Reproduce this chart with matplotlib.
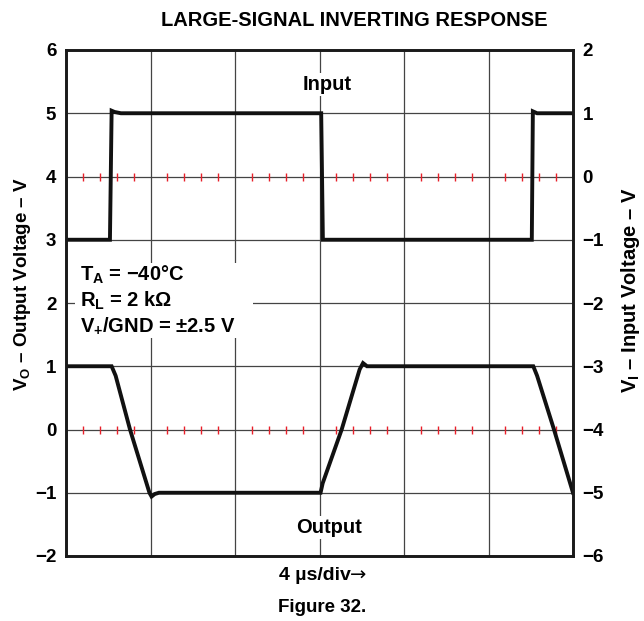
import matplotlib
matplotlib.use('Agg')
import matplotlib.pyplot as plt
from matplotlib.patches import Rectangle

plt.rcParams['font.family'] = ['Liberation Sans', 'DejaVu Sans']
plt.rcParams['font.weight'] = 'bold'
plt.rcParams['mathtext.fontset'] = 'custom'
plt.rcParams['mathtext.rm'] = 'Liberation Sans:bold'
plt.rcParams['mathtext.it'] = 'Liberation Sans:bold'
plt.rcParams['mathtext.bf'] = 'Liberation Sans:bold'

# tempo em us (4 us/div, 6 divisoes)
t_in = [0, 2.08, 2.16, 2.3, 2.6, 12.08, 12.16, 12.3, 22.05, 22.10, 22.3, 24]
v_in = [-1, -1, 1.04, 1.02, 1, 1, -1.0, -1, -1, 1.03, 1, 1]

t_out = [0, 2.16, 2.35, 3.03, 3.95, 4.05, 4.2, 4.4, 12.05, 12.15, 13.05, 13.9,
         14.06, 14.25, 22.12, 22.3, 23.1, 24]
v_out = [1, 1, 0.85, 0, -1.0, -1.06, -1.02, -1.0, -1, -0.85, 0, 0.95,
         1.05, 1.0, 1, 0.85, 0, -1]

vo_ticks = [-2, -1, 0, 1, 2, 3, 4, 5, 6]
vi_ticks = [-6, -5, -4, -3, -2, -1, 0, 1, 2]
t_grid = [0, 4, 8, 12, 16, 20, 24]
ref_levels = [4, 0]   # linhas com marcas vermelhas (eixo VO)

W, H = 644, 621
fig = plt.figure(figsize=(W / 100, H / 100), dpi=100)
ax = fig.add_axes([66 / W, 1 - 556 / H, (573 - 66) / W, (556 - 50) / H])
ax2 = ax.twinx()

ax.set_xlim(0, 24)
ax.set_ylim(-2, 6)
ax2.set_ylim(-6, 2)
ax.set_xticks(t_grid)
ax.set_yticks(vo_ticks)
ax2.set_yticks(vi_ticks)
ax.set_xticklabels([])
ax.set_yticklabels([str(v).replace('-', '\u2212') for v in vo_ticks], fontsize=13.5)
ax2.set_yticklabels([str(v).replace('-', '\u2212') for v in vi_ticks], fontsize=13.5)
ax.tick_params(length=0, pad=7)
ax2.tick_params(length=0, pad=7)

ax.set_axisbelow(True)
ax.grid(True, color='#444444', lw=0.9)
for s in list(ax.spines.values()) + list(ax2.spines.values()):
    s.set_linewidth(1.9)
    s.set_color('#1a1a1a')

# marcas vermelhas nas linhas de referencia
marks = [t for t in [k * 0.8 for k in range(1, 30)] if abs(t / 4 - round(t / 4)) > 0.01]
for lvl in ref_levels:
    ax.plot(marks, [lvl] * len(marks), ls='none', marker='|', color='#e8202a',
            ms=6, mew=1.0, zorder=1)

ax2.plot(t_in, v_in, color='#111111', lw=2.8, solid_joinstyle='miter')
ax.plot(t_out, v_out, color='#111111', lw=2.8, solid_joinstyle='miter', zorder=3)

# caixa das condicoes
ax2.add_patch(Rectangle((0.018, 0.431), 0.351, 0.148, transform=ax2.transAxes,
                        facecolor='white', edgecolor='none', zorder=1))
cond = ['T$_\\mathrm{A}$ = \u221240\u00b0C', 'R$_\\mathrm{L}$ = 2 k\u03a9',
        'V$_{+}$/GND = \u00b12.5 V']
for txt, yb in zip(cond, [0.545, 0.493, 0.443]):
    ax2.text(0.028, yb, txt, transform=ax2.transAxes, fontsize=14.5,
             va='baseline', ha='left', zorder=4)

ax2.text(0.515, 0.931, 'Input', transform=ax2.transAxes, fontsize=14.5,
         ha='center', va='center',
         bbox=dict(facecolor='white', edgecolor='none', pad=1.5))
ax2.text(0.519, 0.057, 'Output', transform=ax2.transAxes, fontsize=14.5,
         ha='center', va='center',
         bbox=dict(facecolor='white', edgecolor='none', pad=1.5))

fig.text(354 / W, 1 - 20 / H, 'LARGE-SIGNAL INVERTING RESPONSE', fontsize=14.5,
         ha='center', va='center')
fig.text(351 / W, 1 - 576 / H, '4 \u00b5s/div', fontsize=14,
         ha='right', va='center')
fig.text(350 / W, 1 - 575 / H, '\u2192', fontsize=14, family='DejaVu Sans',
         weight='normal', ha='left', va='center')
fig.text(322 / W, 1 - 607 / H, 'Figure 32.', fontsize=13.5,
         ha='center', va='center')
fig.text(23 / W, 1 - 284 / H, 'V$_\\mathrm{O}$ \u2013 Output Voltage \u2013 V',
         fontsize=13.5, rotation=90, ha='center', va='center')
fig.text(631 / W, 1 - 290 / H, 'V$_\\mathrm{I}$ \u2013 Input Voltage \u2013 V',
         fontsize=14.5, rotation=90, ha='center', va='center')

fig.savefig('out.png', dpi=100)
